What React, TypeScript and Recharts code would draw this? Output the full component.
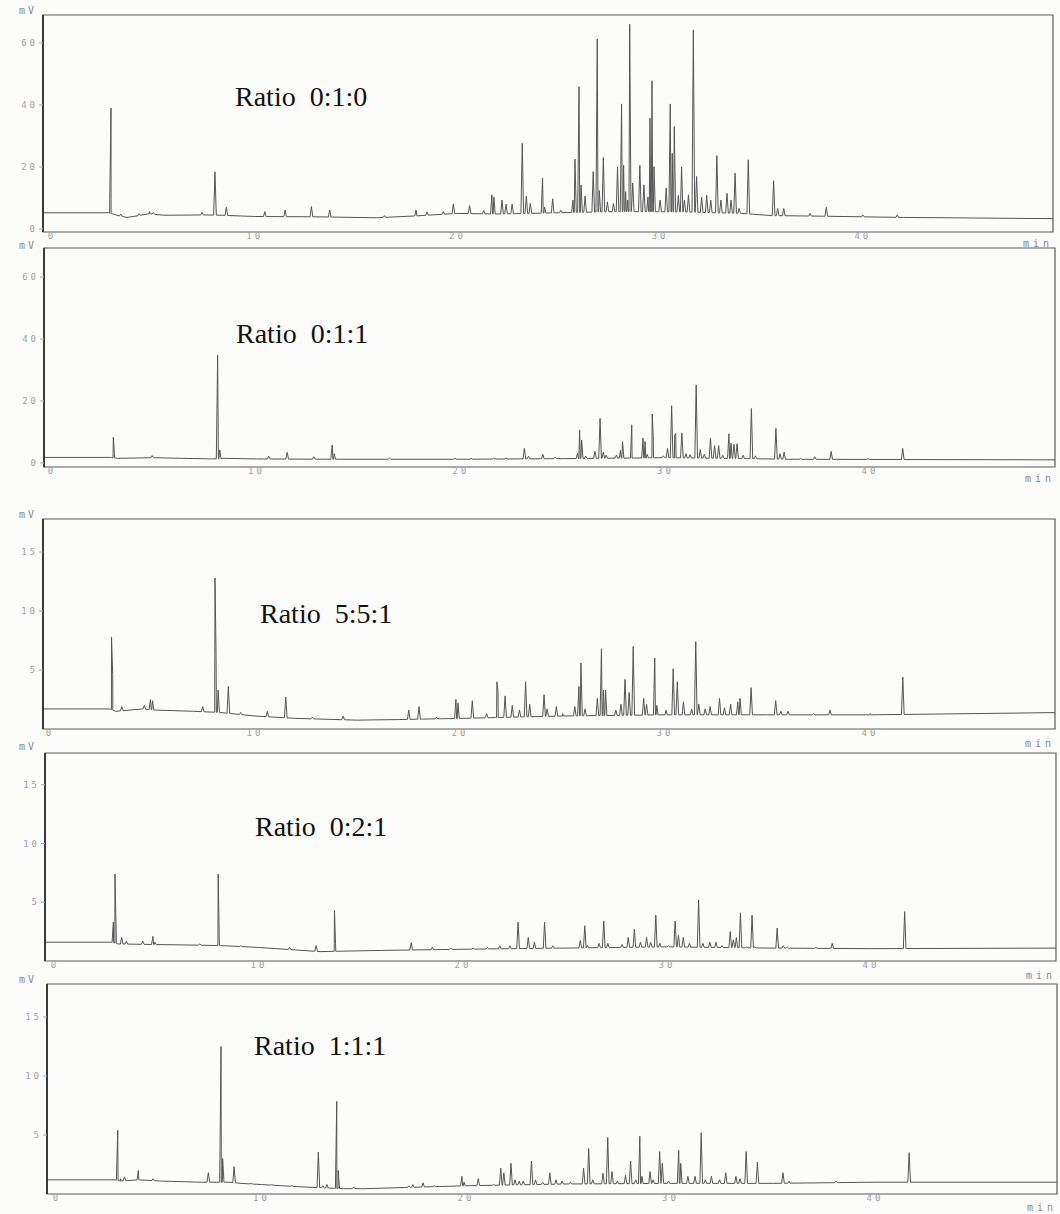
import { LineChart, Line, XAxis, YAxis, ReferenceArea } from "recharts";

// retention time (min) / signal (mV)
const xTicks = [0, 10, 20, 30, 40];
const yTicksHigh = [0, 20, 40, 60];
const yTicksLow = [5, 10, 15];
const ratioLabels = ["Ratio  0:1:0", "Ratio  0:1:1", "Ratio  5:5:1", "Ratio  0:2:1", "Ratio  1:1:1"];

const baseline1 = [[-0.5, 5.2], [2.8, 5.2], [3.2, 4.4], [3.7, 3.7], [4.2, 4.2], [4.8, 4.9], [5.5, 4.4], [7.5, 4.5], [8.4, 4.4], [10, 4.0], [13, 3.9], [16, 3.6], [18, 4.2], [20, 5.0], [22, 4.8], [25, 5.2], [28, 5.6], [31, 5.5], [34, 5.0], [35.5, 4.3], [38, 4.1], [42, 3.7], [49.5, 3.3]];
const peaks1 = [[2.85, 9.8], [2.91, 39], [3.4, 4.8], [4.3, 4.9], [4.8, 5.6], [5.0, 5.3], [7.4, 5.3], [8.04, 18.4], [8.6, 7], [10.5, 5.6], [11.5, 6.1], [12.8, 7.2], [13.7, 6.1], [16.4, 4.3], [17.96, 6.1], [18.5, 5.5], [19.3, 5.6], [19.8, 8], [20.6, 7.5], [21.3, 5.9], [21.7, 11], [21.8, 10.3], [22.2, 9.3], [22.4, 8], [22.7, 8], [23.2, 27.6], [23.4, 10.6], [23.6, 8.2], [24.2, 16.4], [24.3, 7], [24.7, 9.7], [25.1, 6], [25.7, 9.3], [25.8, 22.5], [26.0, 45.9], [26.1, 14.2], [26.3, 10.6], [26.7, 18.5], [26.9, 61.3], [27.0, 12.4], [27.2, 23], [27.4, 8.7], [27.7, 8.2], [27.9, 20], [28.1, 40.3], [28.2, 20.5], [28.3, 12], [28.4, 9.3], [28.5, 66], [28.65, 14.8], [29.0, 20.5], [29.2, 14.2], [29.4, 10.3], [29.5, 35.7], [29.6, 47.8], [29.7, 20], [30.0, 9.3], [30.3, 13.2], [30.5, 40.3], [30.6, 24.4], [30.7, 33], [30.9, 10.8], [31.06, 20], [31.2, 9.3], [31.4, 11], [31.64, 64.2], [31.8, 16.9], [32.05, 10.3], [32.3, 10.8], [32.5, 9.3], [32.8, 23.6], [33.0, 9.3], [33.3, 11.5], [33.5, 9.3], [33.7, 18], [33.9, 6.6], [34.35, 22.3], [35.6, 15.5], [35.8, 6.6], [36.1, 6.6], [37.4, 5], [38.2, 7], [40.0, 4.5], [41.7, 4.5]];

const baseline2 = [[-0.5, 1.8], [2.9, 1.8], [3.2, 1.5], [5, 1.7], [7.8, 1.3], [8.4, 1.5], [10, 1.3], [14, 1.2], [20, 1.2], [25, 1.4], [30, 1.7], [34, 1.4], [36, 1.2], [49.5, 1.0]];
const peaks2 = [[3.0, 8.3], [3.05, 3], [4.9, 2.4], [8.1, 34.8], [8.2, 4.2], [10.6, 2.2], [11.5, 3.4], [12.8, 2.0], [13.7, 5.8], [13.8, 3.0], [16.5, 1.6], [19.7, 1.5], [20.5, 1.5], [21.6, 1.6], [22.2, 1.6], [23.1, 4.7], [23.3, 2.2], [24.0, 2.8], [24.6, 1.9], [25.7, 3.2], [25.8, 10.6], [25.9, 7.4], [26.1, 2.2], [26.55, 3.8], [26.8, 14.4], [26.96, 3.5], [27.1, 2.5], [27.6, 2.5], [27.8, 4.0], [27.9, 6.9], [28.3, 3.8], [28.35, 12.3], [28.9, 8.0], [29.0, 6.9], [29.1, 2.8], [29.35, 15.8], [29.4, 8.5], [29.9, 2.3], [30.1, 4.7], [30.3, 18.5], [30.45, 9.0], [30.5, 9.5], [30.8, 9.7], [31.0, 3.0], [31.2, 2.7], [31.5, 25.2], [31.7, 4.3], [31.9, 2.8], [32.2, 8.0], [32.4, 5.6], [32.6, 5.6], [32.8, 2.5], [33.1, 9.4], [33.2, 6.4], [33.35, 6.0], [33.5, 6.2], [33.8, 2.5], [34.2, 17.6], [34.4, 2.3], [35.4, 11.2], [35.6, 3.0], [35.8, 3.5], [36.6, 1.5], [37.3, 2.0], [38.1, 3.7], [39.9, 1.4], [41.6, 4.7]];

const baseline3 = [[-0.5, 1.7], [2.9, 1.7], [3.2, 1.5], [4.5, 1.7], [5.2, 1.6], [7, 1.5], [8.3, 1.4], [10, 1.1], [12, 0.9], [15, 0.75], [17, 0.8], [20, 0.9], [25, 1.1], [30, 1.2], [35, 1.2], [40, 1.2], [49.5, 1.4]];
const peaks3 = [[3.0, 7.8], [3.06, 4.6], [3.5, 1.9], [4.6, 2.0], [4.9, 2.5], [5.0, 2.4], [7.45, 1.9], [8.05, 12.8], [8.1, 6.3], [8.2, 3.3], [8.7, 3.6], [9.3, 1.4], [10.6, 1.5], [11.5, 2.7], [12.8, 1.0], [14.3, 1.1], [17.5, 1.6], [18.0, 1.9], [18.85, 1.0], [19.8, 2.5], [19.9, 2.2], [20.6, 2.4], [21.3, 1.3], [21.8, 4.0], [21.85, 3.3], [22.2, 2.8], [22.55, 2.0], [22.9, 1.6], [23.2, 4.0], [23.4, 2.1], [24.1, 2.9], [24.25, 1.7], [24.7, 1.9], [25.0, 1.3], [25.6, 1.9], [25.8, 3.6], [25.9, 5.6], [26.1, 1.7], [26.7, 2.6], [26.9, 6.8], [27.0, 3.3], [27.1, 3.3], [27.6, 1.6], [27.85, 2.1], [28.05, 4.2], [28.25, 3.1], [28.45, 7.0], [28.96, 2.6], [29.1, 2.1], [29.5, 6.0], [29.6, 2.0], [30.05, 1.6], [30.4, 5.1], [30.6, 4.0], [30.9, 2.3], [31.3, 1.7], [31.5, 7.4], [31.65, 2.1], [31.96, 1.7], [32.2, 1.9], [32.66, 2.6], [32.9, 1.8], [33.2, 2.1], [33.55, 2.3], [33.66, 2.6], [34.2, 3.5], [35.4, 2.4], [35.65, 1.5], [36.0, 1.5], [37.25, 1.3], [38.05, 1.6], [40.0, 1.3], [41.6, 4.4]];

const baseline4 = [[-0.5, 1.6], [2.8, 1.6], [3.1, 1.45], [5, 1.4], [7, 1.35], [8.3, 1.3], [10, 1.15], [13, 0.8], [16, 0.9], [20, 1.0], [25, 1.1], [30, 1.2], [35, 1.1], [40, 1.05], [49.5, 1.1]];
const peaks4 = [[2.86, 3.3], [2.94, 7.4], [3.0, 2.2], [3.27, 2.0], [3.5, 1.7], [4.3, 1.7], [4.8, 2.1], [4.9, 1.6], [7.1, 1.45], [8.0, 7.4], [8.05, 2.0], [9.1, 1.3], [10.4, 1.1], [11.5, 1.16], [12.8, 1.3], [13.7, 4.3], [13.75, 1.5], [17.46, 1.56], [18.5, 1.2], [19.4, 1.1], [20.5, 1.1], [21.2, 1.15], [21.8, 1.3], [22.3, 1.3], [22.7, 3.3], [23.2, 2.0], [23.5, 1.6], [24.0, 3.3], [24.4, 1.3], [25.75, 1.75], [25.97, 3.0], [26.1, 1.3], [26.67, 1.5], [26.9, 3.4], [27.1, 1.5], [27.8, 1.4], [28.1, 2.0], [28.4, 2.7], [28.7, 1.6], [29.0, 2.0], [29.2, 1.6], [29.45, 3.9], [29.65, 1.5], [30.07, 1.3], [30.4, 3.4], [30.56, 2.2], [30.8, 2.0], [31.1, 1.5], [31.55, 5.2], [31.76, 1.5], [32.1, 1.6], [32.4, 1.6], [32.7, 1.3], [33.1, 2.5], [33.25, 1.8], [33.4, 2.0], [33.6, 4.1], [33.9, 1.2], [34.17, 3.9], [34.3, 1.2], [35.4, 2.8], [35.7, 1.3], [35.9, 1.2], [37.3, 1.15], [38.1, 1.5], [41.65, 4.2]];

const baseline5 = [[-0.5, 1.2], [2.85, 1.2], [3.1, 1.1], [4, 1.2], [5, 1.1], [7, 1.0], [8.4, 1.0], [9, 0.9], [10, 0.8], [12, 0.6], [14, 0.45], [15, 0.45], [17, 0.55], [20, 0.7], [25, 0.85], [30, 0.9], [35, 0.9], [40, 1.0], [49.5, 1.0]];
const peaks5 = [[2.92, 2.2], [2.97, 5.4], [3.1, 1.3], [3.3, 1.45], [3.98, 2.0], [4.7, 1.3], [7.4, 1.8], [8.02, 12.5], [8.1, 3.0], [8.66, 2.3], [9.5, 0.9], [10.5, 0.8], [11.5, 0.7], [12.78, 3.55], [13.0, 0.7], [13.2, 0.8], [13.68, 7.85], [13.75, 2.0], [14.5, 0.6], [17.2, 0.7], [17.4, 0.8], [17.9, 0.95], [18.45, 0.7], [19.8, 1.5], [19.9, 1.0], [20.6, 1.3], [21.35, 0.8], [21.7, 2.2], [21.85, 1.8], [22.2, 2.6], [22.4, 1.2], [22.6, 1.1], [22.8, 1.1], [23.2, 2.8], [23.4, 1.2], [23.75, 1.0], [24.1, 1.8], [24.4, 1.2], [24.7, 1.1], [25.1, 1.0], [25.75, 2.2], [26.0, 3.85], [26.2, 1.2], [26.7, 1.76], [26.93, 4.8], [27.14, 1.9], [27.4, 1.1], [27.8, 1.6], [28.05, 2.8], [28.3, 1.2], [28.5, 4.9], [28.6, 1.5], [29.0, 1.9], [29.15, 1.2], [29.47, 3.6], [29.6, 2.6], [29.9, 1.1], [30.4, 3.7], [30.5, 2.6], [30.85, 1.5], [31.2, 1.5], [31.5, 5.2], [31.7, 1.2], [32.0, 1.5], [32.4, 1.2], [32.7, 1.8], [33.2, 1.5], [33.4, 1.3], [33.7, 3.6], [34.25, 2.7], [35.5, 1.8], [35.8, 1.1], [38.1, 1.1], [41.67, 3.5]];

// frame placement of each scanned panel on the page
const panels = [
  { baseline: baseline1, peaks: peaks1, top: 15, bottom: 232, left: 43, right: 1053, x0: 52, k: 20.27, y: [-1, 69], yTicks: yTicksHigh, label: { x: 235, y: 106 }, mv: 10, min: 243 },
  { baseline: baseline2, peaks: peaks2, top: 248, bottom: 467, left: 44, right: 1055, x0: 52, k: 20.45, y: [-1.3, 69.4], yTicks: yTicksHigh, label: { x: 236, y: 343 }, mv: 245, min: 478 },
  { baseline: baseline3, peaks: peaks3, top: 519, bottom: 729, left: 43, right: 1055, x0: 50, k: 20.5, y: [0, 17.8], yTicks: yTicksLow, label: { x: 260, y: 623 }, mv: 514, min: 743 },
  { baseline: baseline4, peaks: peaks4, top: 753, bottom: 961, left: 45, right: 1056, x0: 55, k: 20.4, y: [0, 17.7], yTicks: yTicksLow, label: { x: 255, y: 836 }, mv: 746, min: 975 },
  { baseline: baseline5, peaks: peaks5, top: 984, bottom: 1194, left: 47, right: 1057, x0: 57, k: 20.45, y: [0, 17.8], yTicks: yTicksLow, label: { x: 254, y: 1055 }, mv: 979, min: 1207 },
];

function baseAt(bl: number[][], t: number) {
  for (let i = 0; i < bl.length - 1; i++) {
    if (t >= bl[i][0] && t <= bl[i + 1][0]) {
      const f = (t - bl[i][0]) / (bl[i + 1][0] - bl[i][0]);
      return bl[i][1] + f * (bl[i + 1][1] - bl[i][1]);
    }
  }
  return bl[bl.length - 1][1];
}

// each peak becomes foot - apex - foot on top of the baseline
function buildTrace(bl: number[][], peaks: number[][], w = 0.065) {
  const pts = bl.map(([t, v]) => ({ t, v }));
  peaks.forEach(([t, h]) => {
    pts.push({ t: t - w, v: baseAt(bl, t - w) }, { t, v: h }, { t: t + w, v: baseAt(bl, t + w) });
  });
  return pts.sort((a, b) => a.t - b.t);
}

const tickStyle = { fontFamily: "DejaVu Sans Mono", fontSize: 9, fill: "#a0a0a0", letterSpacing: 3 };
const MT = 2;
const XH = 18;

function Panel({ p }: { p: (typeof panels)[number] }) {
  const data = buildTrace(p.baseline, p.peaks);
  const h = p.bottom - p.top + MT + XH;
  const xDomain = [(p.left - p.x0) / p.k, (p.right - p.x0) / p.k];
  return (
    <div style={{ position: "absolute", left: 0, top: p.top - MT, width: 1060, height: h }}>
      <LineChart width={1060} height={h} data={data} margin={{ top: MT, right: 1060 - p.right, left: 0, bottom: 0 }}>
        <XAxis
          type="number"
          dataKey="t"
          domain={xDomain}
          ticks={xTicks}
          allowDataOverflow
          axisLine={false}
          tickLine={false}
          tickSize={0}
          tickMargin={1}
          height={XH}
          tick={tickStyle}
        />
        <YAxis
          type="number"
          width={p.left}
          domain={p.y}
          ticks={p.yTicks}
          allowDataOverflow
          axisLine={{ stroke: "#222", strokeWidth: 1.6 }}
          tickLine={{ stroke: "#aaa" }}
          tickSize={4}
          tickMargin={1}
          tick={tickStyle}
        />
        <ReferenceArea x1={xDomain[0]} x2={xDomain[1]} y1={p.y[0]} y2={p.y[1]} fill="none" stroke="#5a5a5a" strokeWidth={1.2} />
        <Line type="linear" dataKey="v" stroke="#555" strokeWidth={1} dot={false} isAnimationActive={false} />
      </LineChart>
    </div>
  );
}

export default function App() {
  return (
    <div style={{ position: "absolute", left: 0, top: 0, width: 1060, height: 1214, background: "#fcfcfb", overflow: "hidden" }}>
      {panels.map((p, i) => (
        <Panel key={i} p={p} />
      ))}
      <svg width={1060} height={1214} style={{ position: "absolute", left: 0, top: 0, pointerEvents: "none" }}>
        {panels.map((p, i) => (
          <g key={i}>
            <text x={p.label.x} y={p.label.y} fontFamily="Liberation Serif" fontSize={28} fill="#111" style={{ whiteSpace: "pre" }}>
              {ratioLabels[i]}
            </text>
            <text x={19} y={p.mv + 4} fontFamily="DejaVu Sans Mono" fontSize={10} fill="#8a8a8a" letterSpacing={3}>
              mV
            </text>
            <text x={p.right} y={p.min + 4} textAnchor="end" fontFamily="DejaVu Sans Mono" fontSize={10} fill="#8a8a8a" letterSpacing={4}>
              min
            </text>
          </g>
        ))}
      </svg>
    </div>
  );
}
